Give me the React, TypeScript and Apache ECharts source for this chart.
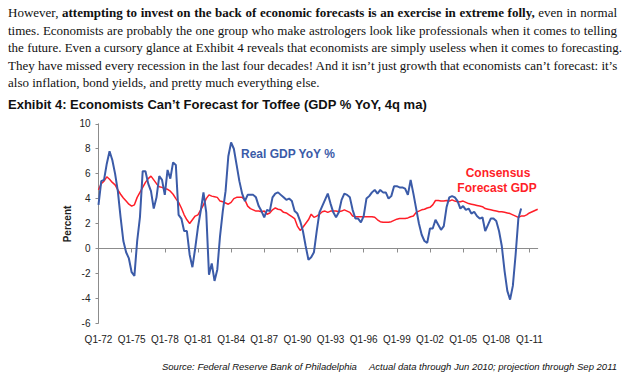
import React, { useEffect, useRef } from "react";
import * as echarts from "echarts";

// Quarters Q1-72 .. Q4-11
const years = ["72","73","74","75","76","77","78","79","80","81","82","83","84","85","86","87","88","89","90","91","92","93","94","95","96","97","98","99","00","01","02","03","04","05","06","07","08","09","10","11"];
const quarters: string[] = [];
years.forEach((y) => { ["Q1","Q2","Q3","Q4"].forEach((q) => quarters.push(`${q}-${y}`)); });

const yTicks = { min: -6, max: 10, interval: 2 };

// Real GDP YoY % (actual, through Q2-10)
const realGdp = [
  3.5, 5.4, 5.5, 6.8, 7.8, 7.1, 6.0, 4.6, 2.5, 0.6,
  -0.3, -0.8, -1.9, -2.2, 0.6, 2.5, 6.2, 6.2, 5.2, 4.6,
  3.2, 4.1, 5.8, 5.5, 4.3, 6.3, 5.6, 6.9, 6.7, 2.7,
  2.4, 1.4, 1.4, -0.5, -1.5, 0.0, 1.7, 3.0, 4.5, 2.9,
  -2.1, -1.2, -2.6, -1.7, 1.0, 3.0, 4.6, 7.4, 8.5, 8.0,
  6.7, 5.4, 4.4, 3.8, 4.3, 4.3, 4.3, 4.1, 3.4, 3.0,
  2.5, 3.1, 3.0, 4.1, 4.4, 4.5, 4.3, 4.1, 3.9, 4.0,
  3.8, 3.0, 2.8, 2.2, 1.4, 0.2, -0.9, -0.7, -0.3, 1.4,
  2.9, 3.4, 3.9, 4.4, 3.6, 2.9, 2.5, 2.9, 3.9, 4.4,
  4.3, 4.1, 3.1, 2.4, 2.4, 2.1, 2.6, 4.0, 4.2, 4.5,
  4.7, 4.4, 4.7, 4.5, 4.5, 4.0, 4.2, 5.0, 5.0, 4.9,
  4.9, 4.8, 4.3, 5.5, 4.4, 3.2, 2.0, 1.1, 0.6, 0.45,
  1.6, 1.6, 2.3, 1.9, 1.5, 1.8, 3.3, 4.1, 4.2, 4.1,
  3.8, 3.2, 3.4, 3.1, 3.2, 2.8, 2.95, 2.6, 2.4, 2.5,
  1.4, 1.9, 2.4, 2.4, 2.2, 1.4, 0.2, -1.8, -3.4, -4.1,
  -3.0, -0.5, 2.4, 3.2,
];

// Consensus forecast GDP (projection through 2011)
const consensus = [
  4.7, 5.2, 5.4, 5.75, 5.55, 5.3, 5.1, 4.7, 4.35, 4.05,
  3.8, 3.55, 3.4, 3.5, 4.1, 4.5, 4.9, 5.3, 5.6, 5.8,
  5.5, 5.2, 4.95, 4.9, 4.8, 4.75, 4.6, 4.35, 4.0, 3.7,
  3.25, 2.7, 2.3, 2.0, 2.3, 2.6, 2.7, 3.1, 3.5, 4.0,
  4.3, 4.2, 4.15, 4.1, 3.8, 3.75, 3.65, 3.55, 3.7, 4.0,
  4.1, 4.1, 4.1, 3.9, 3.4, 3.2, 3.1, 3.0, 3.0, 2.95,
  3.0, 2.75, 2.85, 3.1, 3.25, 3.15, 3.1, 2.9, 2.85, 2.7,
  2.55, 2.4, 1.8, 1.45, 1.7, 2.0, 2.3, 2.75, 2.5, 2.6,
  2.75, 2.95, 3.0, 2.9, 3.0, 3.0, 3.0, 2.95, 3.0, 3.1,
  3.0, 2.9, 2.6, 2.55, 2.55, 2.55, 2.55, 2.55, 2.55, 2.55,
  2.5, 2.3, 2.15, 2.1, 2.1, 2.1, 2.15, 2.25, 2.35, 2.4,
  2.4, 2.4, 2.45, 2.55, 2.6, 2.9, 3.0, 3.1, 3.15, 3.25,
  3.3, 3.5, 3.85, 3.85, 3.8, 3.8, 3.85, 3.8, 3.9, 3.8,
  3.75, 3.75, 3.8, 3.7, 3.6, 3.55, 3.5, 3.45, 3.4, 3.35,
  3.2, 3.15, 3.1, 3.05, 3.0, 2.95, 2.95, 2.9, 2.85, 2.8,
  2.7, 2.6, 2.5, 2.6, 2.6, 2.7, 2.85, 2.95, 3.05, 3.15,
];

const paragraphLines: { text: string; bold?: boolean }[][] = [
  [
    { text: "However, " },
    { text: "attempting to invest on the back of economic forecasts is an exercise in extreme folly,", bold: true },
    { text: " even in normal" },
  ],
  [{ text: "times.  Economists are probably the one group who make astrologers look like professionals when it comes to telling" }],
  [{ text: "the future.  Even a cursory glance at Exhibit 4 reveals that economists are simply useless when it comes to forecasting." }],
  [{ text: "They have missed every recession in the last four decades!  And it isn\u2019t just growth that economists can\u2019t forecast: it\u2019s" }],
  [{ text: "also inflation, bond yields, and pretty much everything else." }],
];

const titleText = "Exhibit 4: Economists Can\u2019t Forecast for Toffee (GDP % YoY, 4q ma)";
const sourceText = "Source: Federal Reserve Bank of Philadelphia";
const noteText = "Actual data through Jun 2010; projection through Sep 2011";

const SANS = "'Liberation Sans', Arial, sans-serif";
const BLUE = "#3B5BA8";
const RED = "#FF1E28";

export default function App() {
  const ref = useRef<HTMLDivElement>(null);

  useEffect(() => {
    if (!ref.current) return;
    const chart = echarts.init(ref.current, undefined, { renderer: "svg" });
    const every12 = (i: number) => i % 12 === 0;
    chart.setOption({
      animation: false,
      backgroundColor: "#ffffff",
      grid: { left: 98.5, right: 87.3, top: 123.8, bottom: 49.7, containLabel: false },
      xAxis: [
        {
          type: "category",
          data: quarters,
          boundaryGap: false,
          axisLine: { onZero: true, lineStyle: { color: "#8c8c8c", width: 1 } },
          axisTick: { show: true, interval: every12, length: 4, lineStyle: { color: "#8c8c8c" } },
          axisLabel: { show: false },
          splitLine: { show: false },
        },
        {
          type: "category",
          data: quarters,
          boundaryGap: false,
          position: "bottom",
          axisLine: { show: false, onZero: false },
          axisTick: { show: false },
          axisLabel: { interval: every12, fontSize: 10, color: "#222", margin: 11, fontFamily: SANS },
          splitLine: { show: false },
        },
      ],
      yAxis: {
        type: "value",
        min: yTicks.min,
        max: yTicks.max,
        interval: yTicks.interval,
        axisLine: { show: true, lineStyle: { color: "#8c8c8c", width: 1 } },
        axisTick: { show: true, length: 3, lineStyle: { color: "#8c8c8c" } },
        splitLine: { show: false },
        axisLabel: { fontSize: 10, color: "#222", margin: 8, fontFamily: SANS },
      },
      series: [
        {
          name: "Consensus Forecast GDP",
          type: "line",
          xAxisIndex: 0,
          data: consensus,
          showSymbol: false,
          lineStyle: { color: RED, width: 1.5 },
          itemStyle: { color: RED },
        },
        {
          name: "Real GDP YoY %",
          type: "line",
          xAxisIndex: 0,
          data: realGdp,
          showSymbol: false,
          lineStyle: { color: BLUE, width: 2 },
          itemStyle: { color: BLUE },
        },
      ],
      graphic: [
        {
          type: "text", x: 8, y: 104.5,
          style: { text: titleText, font: `bold 13px ${SANS}`, fill: "#111", align: "left", verticalAlign: "middle" },
        },
        {
          type: "text", x: 67.5, y: 224, rotation: Math.PI / 2,
          style: { text: "Percent", font: `bold 10px ${SANS}`, fill: "#222", align: "center", verticalAlign: "middle" },
        },
        {
          type: "text", x: 241, y: 154,
          style: { text: "Real GDP YoY %", font: `bold 12px ${SANS}`, fill: BLUE, align: "left", verticalAlign: "middle" },
        },
        {
          type: "text", x: 498, y: 173,
          style: { text: "Consensus", font: `bold 12px ${SANS}`, fill: RED, align: "center", verticalAlign: "middle" },
        },
        {
          type: "text", x: 497, y: 188,
          style: { text: "Forecast GDP", font: `bold 12px ${SANS}`, fill: RED, align: "center", verticalAlign: "middle" },
        },
        {
          type: "text", x: 162, y: 366,
          style: { text: sourceText, font: `italic 9.5px ${SANS}`, fill: "#111", align: "left", verticalAlign: "middle" },
        },
        {
          type: "text", x: 617, y: 366,
          style: { text: noteText, font: `italic 9.5px ${SANS}`, fill: "#111", align: "right", verticalAlign: "middle" },
        },
      ],
    });
    return () => chart.dispose();
  }, []);

  return (
    <div style={{ position: "absolute", left: 0, top: 0, width: 625, height: 373, background: "#fff", overflow: "hidden" }}>
      <div ref={ref} style={{ position: "absolute", left: 0, top: 0, width: 625, height: 373 }} />
      <div
        style={{
          position: "absolute",
          left: 8,
          top: 4,
          width: 609,
          fontFamily: "'Liberation Serif', 'Times New Roman', serif",
          fontSize: 13,
          lineHeight: "17.5px",
          color: "#111",
        }}
      >
        {paragraphLines.map((segs, li) => (
          <div
            key={li}
            style={{
              textAlign: "justify",
              textAlignLast: li < paragraphLines.length - 1 ? "justify" : "left",
              whiteSpace: "nowrap",
            }}
          >
            {segs.map((s, si) => (
              <span key={si} style={{ fontWeight: s.bold ? "bold" : "normal" }}>{s.text}</span>
            ))}
          </div>
        ))}
      </div>
    </div>
  );
}
